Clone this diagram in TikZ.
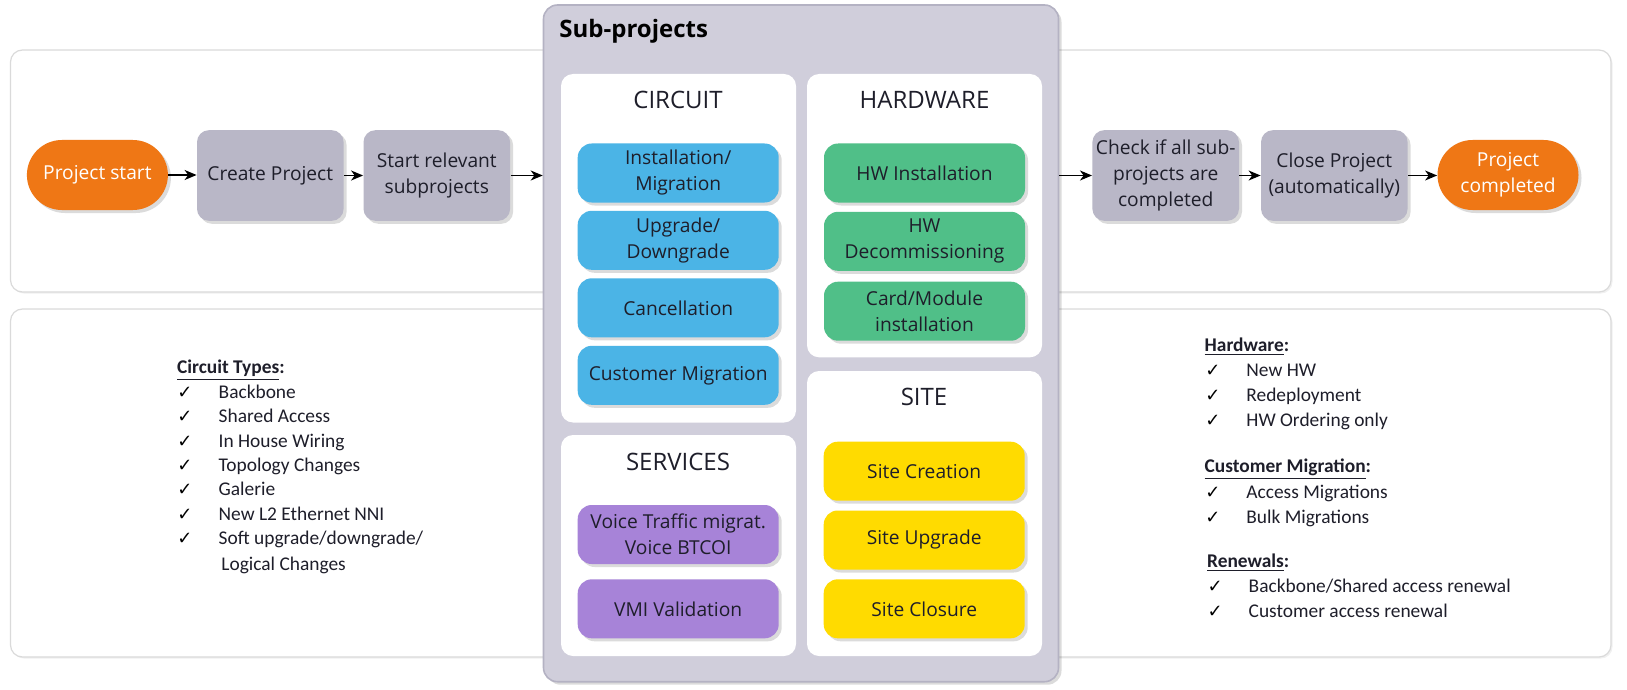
\documentclass[tikz,border=0pt]{standalone}
\usepackage{fontspec}
\setmainfont{Carlito}
\newfontfamily\boxfont{Open Sans}
\newfontfamily\tickfont{DejaVu Sans}
\usetikzlibrary{arrows.meta,shadows}

\definecolor{termorange}{HTML}{EF7715}
\definecolor{flowgray}{HTML}{B9B7C7}
\definecolor{subfill}{HTML}{D0CEDB}
\definecolor{subline}{HTML}{B4B2C3}
\definecolor{panelline}{HTML}{DADADA}
\definecolor{circblue}{HTML}{4BB4E6}
\definecolor{hwgreen}{HTML}{50BF88}
\definecolor{svcpurple}{HTML}{A783D8}
\definecolor{siteyellow}{HTML}{FFDB00}
\definecolor{textdark}{HTML}{1E1E2A}

\tikzset{
  softshadow/.style={drop shadow={shadow xshift=1.5pt, shadow yshift=-1.5pt, opacity=0.14, fill=black}},
  panel/.style={draw=panelline, fill=white, line width=0.6pt, rounded corners=6pt,
    drop shadow={shadow xshift=0.8pt, shadow yshift=-0.8pt, opacity=0.06, fill=black}},
  subpanel/.style={draw=subline, fill=subfill, line width=0.8pt, rounded corners=7pt, softshadow},
  group/.style={fill=white, rounded corners=6pt, minimum width=117.5pt},
  grouptitle/.style={font=\boxfont\fontsize{12}{14}\selectfont, text=textdark, inner sep=0pt},
  item/.style={rounded corners=7pt, minimum width=100.5pt, minimum height=29.5pt, inner sep=1pt,
    align=center, text=textdark, font=\boxfont\fontsize{9.6}{13}\selectfont, softshadow},
  flowbox/.style={fill=flowgray, rounded corners=6pt, minimum width=73.3pt, minimum height=45.35pt,
    inner sep=1pt, align=center, text=textdark, font=\boxfont\fontsize{9.6}{12.8}\selectfont, softshadow},
  terminal/.style={fill=termorange, rounded corners=17.5pt, minimum width=70.5pt, minimum height=35pt,
    inner sep=1pt, align=center, text=white, font=\boxfont\fontsize{9.6}{12.8}\selectfont, softshadow},
  flowarrow/.style={draw=black, line width=0.7pt, -{Stealth[length=6pt, width=5pt, inset=1.8pt]}},
  listhead/.style={anchor=base west, inner sep=0pt, text=textdark, font=\fontsize{9.7}{12}\selectfont\bfseries},
  listitem/.style={anchor=base west, inner sep=0pt, text=textdark, font=\fontsize{9.7}{12}\selectfont},
  tick/.style={anchor=base west, inner sep=0pt, text=black, font=\tickfont\fontsize{9}{10}\selectfont\bfseries}
}

\begin{document}
\begin{tikzpicture}[x=0.5pt, y=-0.5pt]
\useasboundingbox (0,0) rectangle (1627,690);

% outer process panels
\node[panel, minimum width=800.25pt, minimum height=121pt] (toppanel) at (810.75,171) {};
\node[panel, minimum width=800.25pt, minimum height=174pt] (botpanel) at (810.75,483) {};

% sub-project container
\node[subpanel, minimum width=257.5pt, minimum height=338.35pt] (sub) at (801,343.35) {};
\node[anchor=west, inner sep=0pt, text=black, font=\boxfont\fontsize{12}{14}\selectfont\bfseries] (subtitle) at (559,31.7) {Sub-projects};

% groups
\node[group, minimum height=174.25pt] (circuit) at (678.5,248.25) {};
\node[group, minimum height=141.65pt] (hardware) at (924.5,215.65) {};
\node[group, minimum height=110.5pt] (services) at (678.5,545.5) {};
\node[group, minimum height=142.5pt] (site) at (924.5,513.5) {};

\node[grouptitle] (circuitT) at (678,100) {CIRCUIT};
\node[grouptitle] (hardwareT) at (924.5,100) {HARDWARE};
\node[grouptitle] (servicesT) at (678,461.7) {SERVICES};
\node[grouptitle] (siteT) at (924,396.7) {SITE};

% circuit items
\node[item, fill=circblue] (c1) at (678.2,173) {Installation/\\Migration};
\node[item, fill=circblue] (c2) at (678.2,240.3) {Upgrade/\\Downgrade};
\node[item, fill=circblue] (c3) at (678.2,307.8) {Cancellation};
\node[item, fill=circblue] (c4) at (678.2,375.3) {Customer Migration};

% hardware items
\node[item, fill=hwgreen] (h1) at (924.5,173) {HW Installation};
\node[item, fill=hwgreen] (h2) at (924.5,241.3) {HW\\Decommissioning};
\node[item, fill=hwgreen] (h3) at (924.5,311.2) {Card/Module\\installation};

% services items
\node[item, fill=svcpurple] (s1) at (678.2,534.5) {Voice Traffic migrat.\\Voice BTCOI};
\node[item, fill=svcpurple] (s2) at (678.2,608.8) {VMI Validation};

% site items
\node[item, fill=siteyellow] (t1) at (924.2,471.2) {Site Creation};
\node[item, fill=siteyellow] (t2) at (924.2,540) {Site Upgrade};
\node[item, fill=siteyellow] (t3) at (924.2,608.8) {Site Closure};

% main flow
\node[terminal] (start) at (97.4,175) {Project start};
\node[flowbox] (create) at (270.3,175.5) {Create Project};
\node[flowbox] (launch) at (436.8,175.5) {Start relevant\\subprojects};
\node[flowbox] (check) at (1165.7,175.5) {Check if all sub-\\projects are\\completed};
\node[flowbox] (close) at (1334.3,175.5) {Close Project\\(automatically)};
\node[terminal] (done) at (1508,175) {Project\\completed};

\draw[flowarrow] (start.east) -- (start.east -| create.west);
\draw[flowarrow] (create.east) -- (create.east -| launch.west);
\draw[flowarrow] (launch.east) -- (launch.east -| sub.west);
\draw[flowarrow] (check.west -| sub.east) -- (check.west);
\draw[flowarrow] (check.east) -- (close.west);
\draw[flowarrow] (close.east) -- (close.east -| done.west);

% circuit types list
\node[listhead] (cthead) at (176.7,373.3) {\underline{Circuit Types}:};
\foreach \t [count=\i] in {Backbone, Shared Access, In House Wiring, Topology Changes, Galerie, New L2 Ethernet NNI, Soft upgrade/downgrade/} {
  \node[tick] (ctk\i) at (177,{398.3+24.4*(\i-1)}) {✓};
  \node[listitem] (ct\i) at (218.3,{398.3+24.4*(\i-1)}) {\t};
}
\node[listitem] (ct8) at (221,570) {Logical Changes};

% hardware list
\node[listhead] (hwhead) at (1204.3,351.7) {\underline{Hardware}:};
\foreach \t [count=\i] in {New HW, Redeployment, HW Ordering only} {
  \node[tick] (hwk\i) at (1205,{376.7+25*(\i-1)}) {✓};
  \node[listitem] (hw\i) at (1246,{376.7+25*(\i-1)}) {\t};
}

% customer migration list
\node[listhead] (cmhead) at (1204.3,472.7) {\underline{Customer Migration}:};
\foreach \t [count=\i] in {Access Migrations, Bulk Migrations} {
  \node[tick] (cmk\i) at (1205,{498+25*(\i-1)}) {✓};
  \node[listitem] (cm\i) at (1246,{498+25*(\i-1)}) {\t};
}

% renewals list
\node[listhead] (rnhead) at (1206.7,567.3) {\underline{Renewals}:};
\foreach \t [count=\i] in {Backbone/Shared access renewal, Customer access renewal} {
  \node[tick] (rnk\i) at (1207.3,{592.7+25*(\i-1)}) {✓};
  \node[listitem] (rn\i) at (1248.3,{592.7+25*(\i-1)}) {\t};
}
\end{tikzpicture}
\end{document}
